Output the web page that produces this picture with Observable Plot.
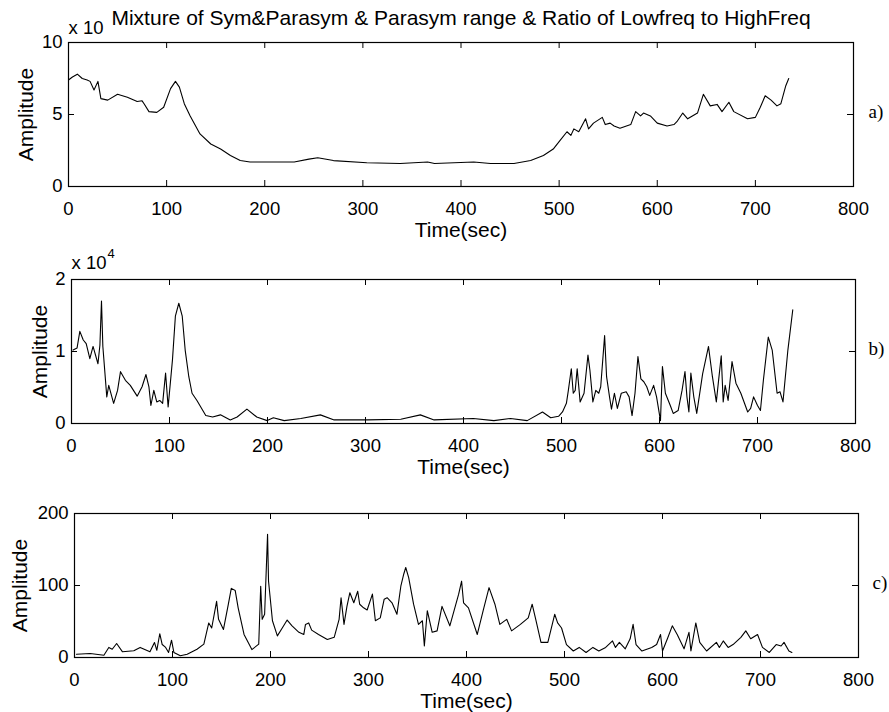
<!DOCTYPE html>
<html>
<head>
<meta charset="utf-8">
<script src="https://cdn.jsdelivr.net/npm/d3@7"></script>
<script src="https://cdn.jsdelivr.net/npm/@observablehq/plot@0.6"></script>
<style>
  body { margin: 0; background: #fff; }
  #wrap { position: relative; width: 889px; height: 712px; background: #fff; overflow: hidden; }
  #wrap > div { position: absolute; left: 0; }
  svg { overflow: visible; }
</style>
</head>
<body>
<div id="wrap">
  <div id="pa" style="top:0px"></div>
  <div id="pb" style="top:236px"></div>
  <div id="pc" style="top:470px"></div>
</div>
<script>
const titleText = "Mixture of Sym&Parasym & Parasym range & Ratio of Lowfreq to HighFreq";
const xTicks = [0, 100, 200, 300, 400, 500, 600, 700, 800];
const yTicksA = [0, 5, 10];
const yTicksB = [0, 1, 2];
const yTicksC = [0, 100, 200];
const tags = ["a)", "b)", "c)"];

// Panel a) amplitude (axis units)
const timeA = [0,4,9,14,19,22,26,30,33,40,50,60,70,75,77,82,90,97,104,109,113,118,124,134,145,155,165,175,185,202,230,245,254,270,304,338,366,373,413,430,454,471,484,494,501,508,512,515,520,527,530,535,544,547,552,556,562,573,578,583,586,593,600,610,617,620,626,631,641,647,654,661,666,673,678,692,700,705,710,716,722,726,731,734];
const ampA  = [7.4,7.6,7.8,7.5,7.4,7.3,6.7,7.3,6.1,6.0,6.4,6.2,5.9,5.95,5.75,5.2,5.15,5.5,6.8,7.3,6.9,5.75,4.9,3.65,2.95,2.6,2.15,1.8,1.7,1.7,1.7,1.9,2.0,1.8,1.65,1.6,1.7,1.6,1.7,1.6,1.6,1.8,2.15,2.6,3.2,3.8,3.55,4.0,3.8,4.7,4.0,4.4,4.8,4.3,4.4,4.2,4.05,4.3,5.2,4.9,5.1,4.9,4.4,4.2,4.3,4.5,5.1,4.7,5.1,6.4,5.6,5.7,5.2,5.85,5.2,4.7,4.8,5.5,6.3,6.0,5.6,5.75,7.0,7.5];

// Panel b) amplitude (x 10^4)
const timeB = [1.6,5.7,8.5,12,15,18.7,22,27,29,30.6,32,36,38,43,47,50,55,60,67,72,76,79,81,84,87,90,93,96,98.6,103,106,109.5,113,116,119.7,123,128,137,144,152,162,169,179,189,199.7,206,217,234,254,268,302,336,356,370,410,431,448,465,480.6,489,497,501,505,507,510,512,514,516,519,523,527,529,532,535,538,540,544,546,549,551,554,557,561,566,569,572,575,578,581,584,587,590,594,597,601,603,606,611,614,619,623,626,628,630,632,635,638,644,650,654,658,660,663,665,667,670,674,678,683,690,693,696,700,703,706,711,715,720,723,726,731,736];
const ampB  = [1.02,1.05,1.28,1.16,1.11,0.9,1.07,0.83,1.09,1.70,1.07,0.37,0.53,0.28,0.46,0.72,0.6,0.53,0.38,0.51,0.68,0.51,0.25,0.46,0.3,0.32,0.28,0.70,0.23,0.88,1.49,1.67,1.49,1.02,0.65,0.42,0.32,0.11,0.09,0.12,0.05,0.09,0.2,0.09,0.04,0.08,0.04,0.07,0.12,0.05,0.05,0.06,0.12,0.05,0.07,0.04,0.07,0.04,0.16,0.08,0.1,0.16,0.28,0.46,0.76,0.42,0.46,0.76,0.3,0.42,0.95,0.74,0.3,0.46,0.42,0.51,1.22,0.65,0.37,0.2,0.42,0.21,0.42,0.44,0.37,0.11,0.42,0.93,0.62,0.58,0.51,0.39,0.53,0.37,0.04,0.79,0.42,0.25,0.14,0.18,0.46,0.72,0.37,0.16,0.70,0.37,0.14,0.69,1.07,0.65,0.3,0.56,0.94,0.3,0.53,0.32,0.86,0.56,0.42,0.16,0.21,0.37,0.25,0.18,0.60,1.2,1.02,0.42,0.44,0.3,1.02,1.58];

// Panel c) amplitude
const timeC = [2,16,30,35,38.5,43,49,60.5,67,77,81.6,84,87,89.5,93,96,99,101.4,108,115,125,132,137,140,145,147,152,157,160,164,167,173,181,188,190,191.5,194,197,198,202,207,212,217,222,229,234,235.7,239,242,249,258,265,270,272,275,278,281,285,289,291,295,298.6,304,307,312,316,319,324,329,333,336,338,341,346,351,355,357,360,365,370,375,383,392,395,397,402,411,417,423,429,434,441,446,455,463,467,471,476,483,490,493,497,502,509,515,522,529,535,542,549,552,556,562,567,570,573,579,589,594,598,600,605,610,615,622,627,629,634,638,645,655,658,662,667,672,680,685,690,697,702,709,716,721,724,729,732];
const ampC  = [4.6,5.5,3.2,14,11.5,19.5,7.9,9.3,14,7.9,20.9,10,33,18,14,7,24,7,2.5,4.6,11.5,18.5,48,41,78,53,39,74,96,93,69,32,11,18.5,99,53,60,171,106,51,30,41,52,44,35,32,46,48,38,32,25,28,53,83,46,71,90,76,92,74,69,66,88,51,55,81,83,76,60,99,116,125,111,74,46,51,16,65,35,37,71,44,88,106,76,69,32,65,97,74,46,53,37,46,55,74,51,21,21,60,48,41,18,9,14,7,14,9,14,23,14,21,12,26,46,18,9,14,18,32,9,26,44,32,12,35,9,48,21,9,21,14,23,14,18,28,37,26,32,14,7,18,16,21,9,7];

const SANS = "'Liberation Sans', Arial, Helvetica, sans-serif";
const SERIF = "'Liberation Serif', 'Times New Roman', serif";

function drawPanel(cfg) {
  const H = 144;
  const W = cfg.xr - cfg.ml;
  const data = cfg.time.map((t, i) => ({t, v: cfg.amp[i]}));
  const innerX = xTicks.slice(1, -1);
  const innerY = cfg.yTicks.slice(1, -1);
  const marks = [
    Plot.axisX({ticks: xTicks, tickSize: 0, tickPadding: 15, label: null, tickFormat: d => String(d)}),
    Plot.axisY({ticks: cfg.yTicks, tickSize: 0, tickPadding: 6, label: null, tickFormat: d => String(d)}),
    Plot.tickX(innerX, {x: d => d, insetTop: H - 6, stroke: "#000", strokeWidth: 1}),
    Plot.tickX(innerX, {x: d => d, insetBottom: H - 6, stroke: "#000", strokeWidth: 1}),
    Plot.tickY(innerY, {y: d => d, insetRight: W - 6, stroke: "#000", strokeWidth: 1}),
    Plot.tickY(innerY, {y: d => d, insetLeft: W - 6, stroke: "#000", strokeWidth: 1}),
    Plot.line(data, {x: "t", y: "v", stroke: "#000", strokeWidth: 1.1}),
    Plot.frame({stroke: "#000", strokeWidth: 1.2}),
    Plot.text(["Amplitude"], {text: d => d, frameAnchor: "left", dx: cfg.ampX - cfg.ml, rotate: -90, textAnchor: "middle", lineAnchor: "middle", fontSize: 21}),
    Plot.text(["Time(sec)"], {text: d => d, frameAnchor: "bottom", dy: 44, textAnchor: "middle", lineAnchor: "middle", fontSize: 21}),
    Plot.text([cfg.tag], {text: d => d, frameAnchor: "right", dx: cfg.tagDx, dy: -3, textAnchor: "start", lineAnchor: "middle", fontFamily: SERIF, fontSize: 19})
  ];
  if (cfg.expo) marks.push(Plot.text(["x 10"], {text: d => d, frameAnchor: "top-left", dy: cfg.expDy, textAnchor: "start", lineAnchor: "middle", fontSize: 18.5}));
  if (cfg.sup) marks.push(Plot.text(["4"], {text: d => d, frameAnchor: "top-left", dx: 36, dy: cfg.expDy - 10, textAnchor: "start", lineAnchor: "middle", fontSize: 13}));
  if (cfg.title) marks.push(Plot.text([cfg.title], {text: d => d, frameAnchor: "top", dy: -24, textAnchor: "middle", lineAnchor: "middle", fontSize: 21}));
  return Plot.plot({
    width: 889,
    height: cfg.height,
    marginTop: cfg.mt,
    marginBottom: cfg.height - cfg.mt - H,
    marginLeft: cfg.ml,
    marginRight: 889 - cfg.xr,
    x: {domain: [0, 800]},
    y: {domain: [cfg.yTicks[0], cfg.yTicks[cfg.yTicks.length - 1]]},
    style: {fontFamily: SANS, fontSize: "18.5px", color: "#000", background: "transparent", overflow: "visible"},
    marks
  });
}

document.getElementById("pa").append(drawPanel({
  time: timeA, amp: ampA, yTicks: yTicksA, tag: tags[0], title: titleText,
  height: 240, mt: 42, ml: 68, xr: 853, ampX: 26, tagDx: 15, expDy: -14, expo: true, sup: false
}));
document.getElementById("pb").append(drawPanel({
  time: timeB, amp: ampB, yTicks: yTicksB, tag: tags[1],
  height: 236, mt: 43, ml: 71, xr: 855, ampX: 40, tagDx: 13, expDy: -16, expo: true, sup: true
}));
document.getElementById("pc").append(drawPanel({
  time: timeC, amp: ampC, yTicks: yTicksC, tag: tags[2],
  height: 242, mt: 43, ml: 74, xr: 858, ampX: 20, tagDx: 14, expDy: -16, expo: false, sup: false
}));
</script>
</body>
</html>
